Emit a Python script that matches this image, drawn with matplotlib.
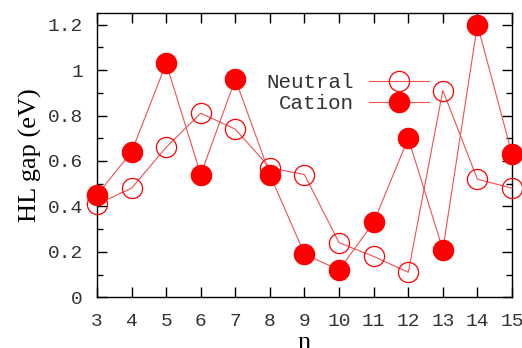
import matplotlib
matplotlib.use("Agg")
import matplotlib.pyplot as plt
from matplotlib.ticker import MultipleLocator

n = [3, 4, 5, 6, 7, 8, 9, 10, 11, 12, 13, 14, 15]
neutral = [0.41, 0.48, 0.66, 0.81, 0.74, 0.57, 0.54, 0.24, 0.18, 0.11, 0.91, 0.52, 0.48]
cation = [0.45, 0.64, 1.03, 0.54, 0.96, 0.54, 0.19, 0.12, 0.33, 0.70, 0.21, 1.20, 0.63]

MONO = "Liberation Mono"
SERIF = "Liberation Serif"
LINE_COLOR = "#f05050"

fig = plt.figure(figsize=(5.22, 3.48), dpi=100)
ax = fig.add_axes([97 / 522, 1 - 297.3 / 348, (512 - 97) / 522, (297.3 - 13.3) / 348])

ax.plot(n, neutral, color=LINE_COLOR, lw=0.8, marker="o", ms=14.5, mfc="none",
        mec="red", mew=0.9, label="Neutral", clip_on=False, zorder=3)
ax.plot(n, cation, color=LINE_COLOR, lw=0.8, marker="o", ms=14.5, mfc="red",
        mec="red", label="Cation", clip_on=False, zorder=4)

ax.set_xlim(3, 15)
ax.set_ylim(0, 1.25)
ax.xaxis.set_major_locator(MultipleLocator(1))
ax.yaxis.set_minor_locator(MultipleLocator(0.1))
ax.tick_params(which="both", direction="in", top=True, right=True, width=1.0)
ax.tick_params(which="major", length=7)
ax.tick_params(which="minor", length=4)
ax.tick_params(axis="y", pad=10)
ax.tick_params(axis="x", pad=11)
for s in ax.spines.values():
    s.set_linewidth(1.0)

ax.set_yticks([0, 0.2, 0.4, 0.6, 0.8, 1.0, 1.2])
ax.set_yticklabels(["0", "0.2", "0.4", "0.6", "0.8", "1", "1.2"])
for lab in ax.get_xticklabels() + ax.get_yticklabels():
    lab.set_fontfamily(MONO)
    lab.set_fontsize(14)
    lab.set_color("#333333")

ax.set_ylabel("HL gap (eV)", fontfamily=SERIF, fontsize=19, labelpad=4)
ax.set_xlabel("n", fontfamily=SERIF, fontsize=19, labelpad=2)

# legend: text on the left, sample on the right (gnuplot style)
leg = ax.legend(loc="upper right", bbox_to_anchor=(429 / 522, 1 - 73 / 348),
                bbox_transform=fig.transFigure, frameon=False,
                prop={"family": MONO, "size": 15}, markerfirst=False,
                handlelength=2.9, handletextpad=0.7, labelspacing=0.1,
                borderpad=0, borderaxespad=0)
for t in leg.get_texts():
    t.set_ha("right")
    t.set_color("#333333")

fig.savefig("out.png", dpi=100)
